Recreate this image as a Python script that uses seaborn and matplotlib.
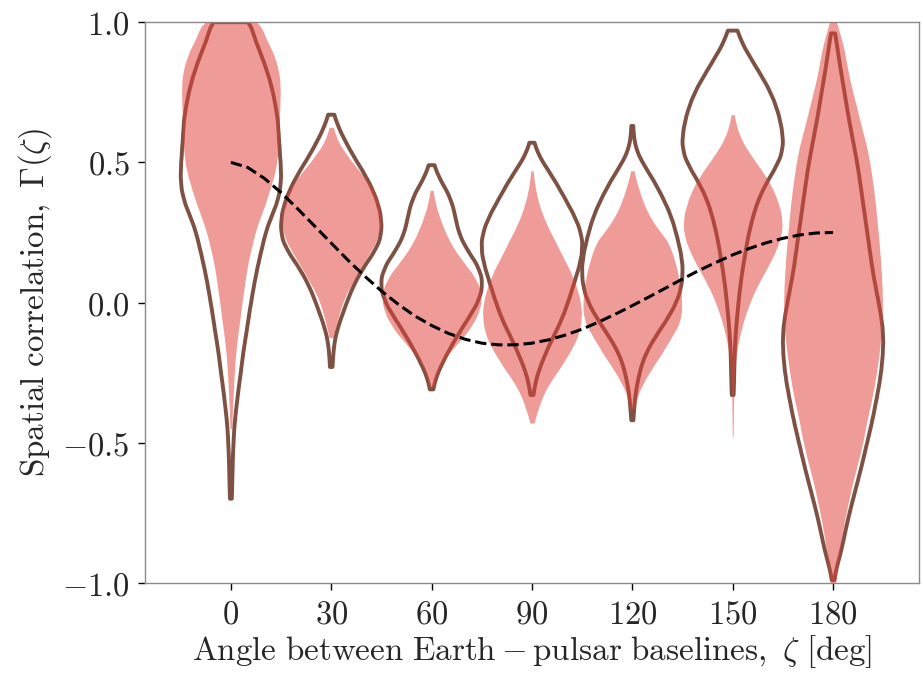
import numpy as np
import pandas as pd
import matplotlib
matplotlib.use("Agg")
import matplotlib.pyplot as plt
import seaborn as sns

# ---------------- data ----------------
ANGLES = [0, 30, 60, 90, 120, 150, 180]
X_TICK_LABELS = ["0", "30", "60", "90", "120", "150", "180"]
Y_TICKS = [-1.0, -0.5, 0.0, 0.5, 1.0]
Y_TICK_LABELS = ["-1.0", "-0.5", "0.0", "0.5", "1.0"]

# Violin profiles: relative density (half-width, deg) at correlation levels
# spaced LEVEL_STEP apart, starting at the given lowest level.
LEVEL_STEP = 0.05

# filled violins (drawn translucent)
FILL_STARTS = [-0.45, -0.125, -0.30, -0.43, -0.38, -0.48, -1.00]
FILL_000 = [0.3, 0.4, 0.6, 0.8, 1.0, 1.3, 1.7, 2.2, 2.8, 3.3, 3.9, 4.5, 5.2, 6.2, 7.2,
            8.6, 10.2, 11.5, 12.8, 13.7, 14.1, 14.3, 14.4, 14.6, 14.7, 14.6, 13.8,
            12.3, 10.0, 9.0]
FILL_030 = [0.6, 1.5, 2.6, 4.0, 6.3, 8.5, 11.0, 13.3, 14.3, 14.2, 13.2, 11.0, 7.7,
            4.5, 1.8, 0.5]
FILL_060 = [0.6, 1.6, 3.6, 7.3, 10.8, 13.3, 14.6, 14.3, 12.2, 8.9, 6.0, 4.0, 2.4,
            1.1, 0.4]
FILL_090 = [0.5, 1.8, 3.2, 5.5, 8.5, 11.0, 13.3, 14.4, 14.7, 14.0, 12.8, 11.0, 8.8,
            6.8, 4.6, 2.9, 1.6, 0.8, 0.3]
FILL_120 = [0.5, 1.5, 3.5, 6.0, 8.8, 11.2, 13.8, 14.7, 14.5, 14.0, 13.2, 12.0, 10.5,
            7.0, 4.5, 2.8, 1.5, 0.4]
FILL_150 = [0.1, 0.15, 0.2, 0.3, 0.4, 0.7, 1.1, 1.9, 2.9, 4.2, 5.8, 7.8, 10.2, 12.4,
            14.2, 15.0, 14.6, 13.3, 11.5, 8.8, 5.8, 3.0, 1.3, 0.4]
FILL_180 = [0.9, 1.2, 1.8, 2.4, 3.1, 3.9, 4.8, 5.7, 6.8, 7.9, 8.9, 9.7, 10.5, 11.5,
            12.3, 13.0, 13.6, 14.1, 14.5, 14.7, 14.8, 14.7, 14.5, 14.2, 13.9, 13.5,
            13.1, 12.7, 12.2, 11.6, 11.0, 10.2, 9.1, 8.0, 7.0, 5.9, 4.9, 4.1, 3.4,
            2.3, 1.0]

# outlined violins
OUTLINE_STARTS = [-0.70, -0.23, -0.31, -0.33, -0.42, -0.33, -0.99]
OUTLINE_000 = [0.3, 0.4, 0.5, 0.6, 0.8, 1.0, 1.4, 1.9, 2.4, 3.0, 3.5, 4.1, 4.8, 5.4,
               6.1, 6.8, 7.6, 8.5, 9.5, 10.5, 12.0, 13.8, 14.9, 15.2, 15.0, 14.7,
               14.4, 14.2, 13.5, 12.7, 11.6, 10.2, 8.6, 6.9, 6.0]
OUTLINE_030 = [0.4, 0.6, 1.1, 2.2, 3.7, 5.2, 7.0, 9.3, 12.2, 14.5, 15.0, 14.6, 13.4,
               11.6, 9.3, 6.7, 4.4, 2.3, 0.8]
OUTLINE_060 = [0.4, 1.5, 3.4, 5.6, 8.0, 10.6, 13.2, 14.8, 14.9, 13.2, 10.3, 8.2, 7.2,
               6.4, 4.9, 2.4, 0.7]
OUTLINE_090 = [0.4, 1.1, 2.4, 4.1, 6.0, 8.1, 9.8, 11.2, 12.5, 13.8, 14.8, 15.0, 14.0,
               12.1, 9.8, 7.5, 4.9, 2.2, 0.6]
OUTLINE_120 = [0.3, 0.6, 1.0, 1.8, 2.8, 4.5, 7.0, 9.8, 12.3, 14.1, 14.9, 15.0, 14.4,
               13.4, 12.3, 10.8, 8.8, 6.6, 4.0, 1.6, 0.5, 0.3]
OUTLINE_150 = [0.3, 0.4, 0.5, 0.6, 0.8, 1.1, 1.5, 1.9, 2.4, 3.0, 3.7, 4.4, 5.3, 6.4,
               7.8, 9.8, 12.3, 14.5, 15.2, 14.7, 13.8, 12.4, 10.5, 8.0, 5.5, 3.0, 1.4]
OUTLINE_180 = [0.3, 1.2, 2.4, 3.3, 4.2, 5.2, 6.3, 7.4, 8.5, 9.5, 10.5, 11.5, 12.4,
               13.2, 14.0, 14.6, 15.0, 15.2, 15.0, 14.4, 13.6, 12.8, 12.0, 11.4, 10.8,
               10.2, 9.6, 9.0, 8.4, 7.8, 7.1, 6.3, 5.5, 4.7, 4.0, 3.3, 2.6, 1.9, 1.3,
               0.6]

# Hellings-Downs expectation (dashed curve), read at 5 degree steps
HD_ANGLES = [0, 5, 10, 15, 20, 25, 30, 35, 40, 45, 50, 55, 60, 65, 70, 75, 80, 85,
             90, 95, 100, 105, 110, 115, 120, 125, 130, 135, 140, 145, 150, 155, 160,
             165, 170, 175, 180]
HD_VALUES = [0.500, 0.482, 0.443, 0.392, 0.334, 0.273, 0.212, 0.151, 0.094, 0.041,
             -0.006, -0.048, -0.082, -0.110, -0.131, -0.145, -0.151, -0.151, -0.145,
             -0.133, -0.116, -0.095, -0.069, -0.041, -0.011, 0.020, 0.052, 0.084,
             0.115, 0.143, 0.170, 0.193, 0.213, 0.229, 0.241, 0.248, 0.250]

FILL_PROFILES = [FILL_000, FILL_030, FILL_060, FILL_090, FILL_120, FILL_150, FILL_180]
OUTLINE_PROFILES = [OUTLINE_000, OUTLINE_030, OUTLINE_060, OUTLINE_090, OUTLINE_120,
                    OUTLINE_150, OUTLINE_180]


def expand(start, widths):
    w = np.asarray(widths, dtype=float)
    levels = start + LEVEL_STEP * np.arange(len(w))
    counts = np.round(w * 10).astype(int)
    return np.repeat(levels, counts)


rows = []
for kind, starts, profiles in (("outline", OUTLINE_STARTS, OUTLINE_PROFILES),
                               ("fill", FILL_STARTS, FILL_PROFILES)):
    for ang, st, prof in zip(ANGLES, starts, profiles):
        vals = expand(st, prof)
        rows.append(pd.DataFrame({"angle": ang, "corr": vals, "kind": kind}))
df = pd.concat(rows, ignore_index=True)

# ---------------- style ----------------
sns.set_style("ticks")
plt.rcParams["mathtext.fontset"] = "cm"
plt.rcParams["font.family"] = ["DejaVu Serif"]

FILL_COLOR = "#e2403a"
OUTLINE_COLOR = "#7d5244"
BW = 0.03

fig = plt.figure(figsize=(9.23, 6.73), dpi=100)
ax = fig.add_axes([0.157, 0.134, 0.8387, 0.833])

for kind in ("outline", "fill"):
    for ang in ANGLES:
        sub = df[(df["kind"] == kind) & (df["angle"] == ang)]
        bwm = BW / np.std(sub["corr"].to_numpy(), ddof=1)
        if kind == "outline":
            sns.violinplot(data=sub, x="angle", y="corr", native_scale=True,
                           orient="x", cut=0, inner=None, density_norm="width",
                           width=30, bw_method=bwm, fill=False,
                           color=OUTLINE_COLOR, linewidth=2.8, saturation=1,
                           ax=ax, zorder=2)
        else:
            sns.violinplot(data=sub, x="angle", y="corr", native_scale=True,
                           orient="x", cut=0, inner=None, density_norm="width",
                           width=29.5, bw_method=bwm, fill=True,
                           color=FILL_COLOR, linewidth=0, saturation=1,
                           alpha=0.52, ax=ax, zorder=3)

sns.lineplot(x=HD_ANGLES, y=HD_VALUES, color="black", linestyle="--",
             linewidth=2.2, ax=ax, zorder=5)

ax.set_xlim(-25.7, 205.7)
ax.set_ylim(-1.0, 1.0)
ax.set_xticks(ANGLES, labels=[f"${t}$" for t in X_TICK_LABELS])
ax.set_yticks(Y_TICKS, labels=[f"${t}$" for t in Y_TICK_LABELS])
ax.tick_params(axis="both", direction="out", length=5, width=1.0, color="black",
               labelsize=23.5, pad=6)
for sp in ax.spines.values():
    sp.set_color("#8a8a8a")
    sp.set_linewidth(1.0)
    sp.set_visible(True)

ax.set_xlabel(r"$\mathrm{Angle\ between\ Earth} - \mathrm{pulsar\ baselines},\ \zeta\ [\mathrm{deg}]$",
              fontsize=23.8, labelpad=2)
ax.set_ylabel(r"$\mathrm{Spatial\ correlation,}\ \Gamma(\zeta)$", fontsize=23.8, labelpad=6)

fig.savefig("out.png", dpi=100)
